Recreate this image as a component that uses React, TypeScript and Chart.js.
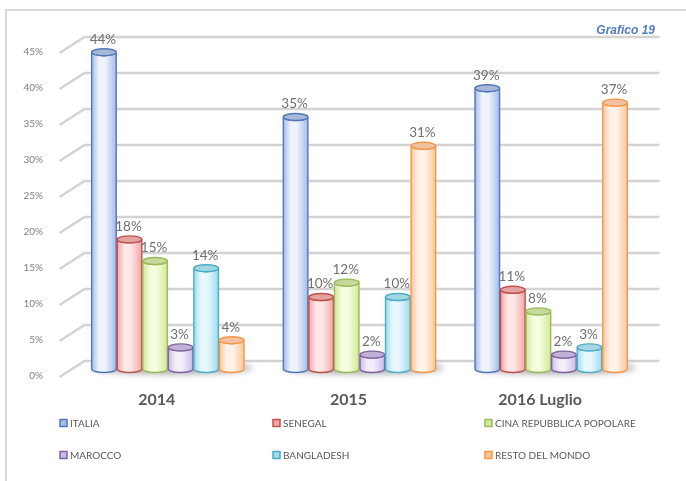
import React, { useEffect, useRef } from "react";
import { Chart, registerables } from "chart.js";
Chart.register(...registerables);

// ---- data ----
const categories = ["2014", "2015", "2016 Luglio"];
const seriesNames = [
  "ITALIA",
  "SENEGAL",
  "CINA REPUBBLICA POPOLARE",
  "MAROCCO",
  "BANGLADESH",
  "RESTO DEL MONDO",
];
const italia = [44, 35, 39];
const senegal = [18, 10, 11];
const cina = [15, 12, 8];
const marocco = [3, 2, 2];
const bangladesh = [14, 10, 3];
const restoDelMondo = [4, 31, 37];
const seriesValues = [italia, senegal, cina, marocco, bangladesh, restoDelMondo];
const yMin = 0;
const yMax = 45;
const yStep = 5;
const chartNote = "Grafico 19";

// ---- styles ----
const borderColors = ["#5577b8", "#c0504d", "#9bbb59", "#8064a2", "#4bacc6", "#f79646"];
const topColors = ["#a8badc", "#e3a3a1", "#c6d99c", "#c0b1d8", "#a4d6e4", "#f2c2a0"];
const lightColors = ["#eef3fc", "#fde8e7", "#f6fce0", "#f3eefa", "#e9f8fd", "#fff3e9"];
const edgeColors = ["#a3bcea", "#f2a6a4", "#d2ea98", "#ccbbe8", "#9cdcf0", "#f9c69c"];

const DX = 12.5;
const DY = 8;
const FONT = "Lato, 'Open Sans', sans-serif";

const gridPlugin = {
  id: "grid3d",
  beforeDatasetsDraw(chart: any) {
    const { ctx, chartArea } = chart;
    const ys = chart.scales.y;
    ctx.save();
    // frame
    ctx.strokeStyle = "#d9d9d9";
    ctx.lineWidth = 2;
    ctx.beginPath();
    ctx.moveTo(6, 481);
    ctx.lineTo(6, 10);
    ctx.lineTo(686, 10);
    ctx.stroke();
    // grid lines (3D)
    ctx.strokeStyle = "#d3d3d3";
    ctx.lineWidth = 2.5;
    ys.ticks.forEach((t: any) => {
      const ym = ys.getPixelForValue(t.value);
      ctx.beginPath();
      ctx.moveTo(chartArea.left - DX, ym + DY);
      ctx.lineTo(chartArea.left + DX, ym - DY);
      ctx.lineTo(chartArea.right + DX, ym - DY);
      ctx.stroke();
    });
    // shadows under groups
    const n = chart.data.labels.length;
    for (let i = 0; i < n; i++) {
      let l = Infinity, r = -Infinity, base = 0;
      chart.data.datasets.forEach((_d: any, di: number) => {
        const el = chart.getDatasetMeta(di).data[i];
        l = Math.min(l, el.x - el.width / 2);
        r = Math.max(r, el.x + el.width / 2);
        base = el.base;
      });
      ctx.save();
      ctx.filter = "blur(3px)";
      ctx.fillStyle = "rgba(80,80,80,0.5)";
      ctx.beginPath();
      ctx.ellipse((l + r) / 2 + 4, base - 1, (r - l) / 2 + 4, 6, 0, 0, Math.PI * 2);
      ctx.fill();
      ctx.restore();
    }
    ctx.restore();
  },
};

const cylinderPlugin = {
  id: "cylinders",
  afterDatasetsDraw(chart: any) {
    const { ctx } = chart;
    ctx.save();
    chart.data.datasets.forEach((_d: any, di: number) => {
      const meta = chart.getDatasetMeta(di);
      meta.data.forEach((el: any) => {
        const x = el.x, top = el.y, base = el.base;
        const rx = el.width / 2 - 0.5;
        const ry = 3.5;
        const g = ctx.createLinearGradient(x - rx, 0, x + rx, 0);
        g.addColorStop(0, edgeColors[di]);
        g.addColorStop(0.3, lightColors[di]);
        g.addColorStop(0.55, lightColors[di]);
        g.addColorStop(1, edgeColors[di]);
        ctx.beginPath();
        ctx.moveTo(x - rx, top);
        ctx.lineTo(x - rx, base);
        ctx.ellipse(x, base, rx, ry, 0, Math.PI, 0, true);
        ctx.lineTo(x + rx, top);
        ctx.ellipse(x, top, rx, ry, 0, 0, Math.PI, false);
        ctx.closePath();
        ctx.fillStyle = g;
        ctx.fill();
        ctx.strokeStyle = borderColors[di];
        ctx.lineWidth = 1.4;
        ctx.stroke();
        ctx.beginPath();
        ctx.ellipse(x, top, rx, ry, 0, 0, Math.PI * 2);
        ctx.fillStyle = topColors[di];
        ctx.fill();
        ctx.stroke();
      });
    });
    // value labels
    ctx.font = `13.5px ${FONT}`;
    ctx.fillStyle = "#707070";
    ctx.textAlign = "center";
    ctx.textBaseline = "middle";
    chart.data.datasets.forEach((d: any, di: number) => {
      const meta = chart.getDatasetMeta(di);
      meta.data.forEach((el: any, i: number) => {
        ctx.fillText(`${d.data[i]}%`, el.x - 1, el.y - 13);
      });
    });
    ctx.restore();
  },
};

const legendPlugin = {
  id: "legendGrid",
  afterDraw(chart: any) {
    const { ctx } = chart;
    const colX = [60, 273, 485];
    const rowY = [423, 455];
    ctx.save();
    ctx.font = `10px ${FONT}`;
    ctx.textAlign = "left";
    ctx.textBaseline = "middle";
    chart.data.datasets.forEach((d: any, di: number) => {
      const x = colX[di % 3];
      const y = rowY[Math.floor(di / 3)];
      ctx.fillStyle = edgeColors[di];
      ctx.fillRect(x, y - 3.5, 7, 7);
      ctx.strokeStyle = borderColors[di];
      ctx.lineWidth = 1.5;
      ctx.strokeRect(x, y - 3.5, 7, 7);
      ctx.fillStyle = "#595959";
      ctx.fillText(d.label, x + 10, y + 0.5);
    });
    // note
    ctx.font = `italic bold 12px 'Liberation Sans', Arial, sans-serif`;
    ctx.fillStyle = "#4f7fc2";
    ctx.textAlign = "right";
    ctx.fillText(chartNote, 655, 31);
    ctx.restore();
  },
};

export default function App() {
  const ref = useRef<HTMLCanvasElement | null>(null);
  useEffect(() => {
    if (!ref.current) return;
    const chart = new Chart(ref.current, {
      type: "bar",
      data: {
        labels: categories,
        datasets: seriesNames.map((name, i) => ({
          label: name,
          data: seriesValues[i],
          backgroundColor: lightColors[i],
          borderWidth: 0,
          categoryPercentage: 0.8,
          barPercentage: 1.0,
        })),
      },
      options: {
        responsive: false,
        animation: false,
        devicePixelRatio: 1,
        layout: { padding: { left: 0, top: 45, right: 39, bottom: 0 } },
        plugins: {
          legend: { display: false },
          tooltip: { enabled: false },
        },
        scales: {
          x: {
            grid: { display: false },
            border: { display: false },
            ticks: {
              labelOffset: -11,
              padding: 13,
              color: "#595959",
              font: { family: FONT, size: 16, weight: "bold" },
            },
            afterFit: (s: any) => {
              s.height = 112;
            },
          },
          y: {
            min: yMin,
            max: yMax,
            grid: { display: false },
            border: { display: false },
            ticks: {
              stepSize: yStep,
              labelOffset: 7,
              padding: 21,
              color: "#7f7f7f",
              font: { family: FONT, size: 10 },
              callback: (v: any) => `${v}%`,
            },
            afterFit: (s: any) => {
              s.width = 72;
            },
          },
        },
      },
      plugins: [gridPlugin, cylinderPlugin, legendPlugin],
    });
    return () => chart.destroy();
  }, []);
  return (
    <div style={{ position: "absolute", left: 0, top: 0, width: 686, height: 481, background: "#fff" }}>
      <canvas ref={ref} width={686} height={481} />
    </div>
  );
}
